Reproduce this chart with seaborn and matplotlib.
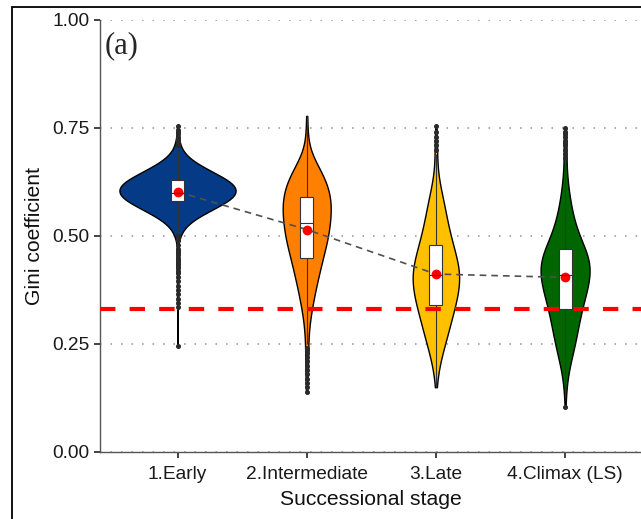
import numpy as np
import pandas as pd
import matplotlib
matplotlib.use("Agg")
import matplotlib.pyplot as plt
import seaborn as sns

# ---------------- data ----------------
stages = ["1.Early", "2.Intermediate", "3.Late", "4.Climax (LS)"]
colors = ["#053b86", "#ff7f00", "#ffc000", "#006600"]

# Early: binned Gini values with counts, plus tail values
early_values = [0.49, 0.50, 0.51, 0.52, 0.53, 0.54, 0.55, 0.56, 0.57, 0.58, 0.59, 0.60,
                0.61, 0.62, 0.63, 0.64, 0.65, 0.66, 0.67, 0.68, 0.69, 0.70, 0.71, 0.72]
early_counts = [3, 6, 9, 15, 24, 36, 51, 69, 84, 102, 114, 120,
                120, 114, 102, 84, 69, 51, 36, 24, 15, 9, 6, 3]
early_tails = [0.245, 0.335, 0.345, 0.355, 0.365, 0.375, 0.385, 0.395, 0.405, 0.415,
               0.42, 0.425, 0.43, 0.435, 0.44, 0.445, 0.45, 0.455, 0.46, 0.465, 0.47,
               0.48, 0.725, 0.73, 0.735, 0.74, 0.745, 0.755]

# Intermediate
inter_values = [0.25, 0.26, 0.27, 0.28, 0.29, 0.30, 0.31, 0.32, 0.33, 0.34,
                0.35, 0.36, 0.37, 0.38, 0.39, 0.40, 0.41, 0.42, 0.43, 0.44,
                0.45, 0.46, 0.47, 0.48, 0.49, 0.50, 0.51, 0.52, 0.53, 0.54,
                0.55, 0.56, 0.57, 0.58, 0.59,
                0.60, 0.61, 0.62, 0.63, 0.64, 0.65, 0.66, 0.67, 0.68, 0.69, 0.70]
inter_counts = [1, 1, 1, 2, 2, 2, 3, 3, 4, 5,
                5, 6, 7, 7, 8, 9, 10, 11, 11, 12,
                13, 14, 15, 16, 17, 18, 18, 18, 19, 19,
                20, 20, 20, 20, 20,
                19, 18, 17, 16, 14, 12, 10, 7, 5, 3, 1]
inter_tails = [0.14, 0.15, 0.16, 0.17, 0.18, 0.19, 0.20, 0.21, 0.22, 0.23, 0.235, 0.24,
               0.71, 0.72, 0.735, 0.75, 0.765, 0.778]

# Late
late_values = [0.15, 0.16, 0.17, 0.18, 0.19, 0.20, 0.21, 0.22, 0.23, 0.24,
               0.25, 0.26, 0.27, 0.28, 0.29, 0.30, 0.31, 0.32, 0.33, 0.34,
               0.35, 0.36, 0.37, 0.38, 0.39, 0.40, 0.41, 0.42, 0.43, 0.44,
               0.45, 0.46, 0.47, 0.48,
               0.49, 0.50, 0.51, 0.52, 0.53, 0.54, 0.55, 0.56, 0.57, 0.58,
               0.59, 0.60, 0.61, 0.62, 0.63, 0.64, 0.65, 0.66, 0.67, 0.68]
late_counts = [1, 1, 1, 1, 2, 3, 4, 4, 5, 7,
               7, 9, 9, 11, 11, 12, 13, 14, 15, 16,
               17, 18, 18, 19, 20, 20, 20, 20, 19, 18,
               17, 16, 15, 14,
               13, 12, 11, 10, 10, 9, 8, 8, 7, 6,
               6, 5, 4, 3, 2, 2, 1, 1, 1, 1]
late_tails = [0.69, 0.70, 0.71, 0.72, 0.73, 0.74, 0.755]

# Climax (LS)
climax_values = [0.13, 0.14, 0.15, 0.16, 0.17, 0.18, 0.19, 0.20, 0.21, 0.22,
                 0.23, 0.24, 0.25, 0.26, 0.27, 0.28, 0.29, 0.30, 0.31, 0.32,
                 0.33, 0.34, 0.35, 0.36, 0.37, 0.38, 0.39, 0.40, 0.41, 0.42,
                 0.43, 0.44, 0.45, 0.46, 0.47, 0.48, 0.49, 0.50, 0.51, 0.52,
                 0.53, 0.54, 0.55, 0.56, 0.57, 0.58, 0.59, 0.60, 0.61, 0.62,
                 0.63, 0.64, 0.65, 0.66]
climax_counts = [1, 1, 1, 1, 2, 2, 3, 4, 5, 5,
                 7, 8, 8, 9, 10, 10, 11, 12, 12, 13,
                 14, 14, 15, 18, 18, 19, 20, 20, 21, 22,
                 22, 22, 21, 19, 17, 15, 13, 12, 10, 9,
                 8, 7, 6, 6, 5, 4, 4, 3, 3, 2,
                 2, 2, 1, 1]
climax_tails = [0.105, 0.67, 0.68, 0.69, 0.70, 0.71, 0.715, 0.72, 0.73, 0.735, 0.74, 0.749]

reference_line = 0.33

# ---------------- build long table ----------------
groups = [
    (early_values, early_counts, early_tails),
    (inter_values, inter_counts, inter_tails),
    (late_values, late_counts, late_tails),
    (climax_values, climax_counts, climax_tails),
]
frames = []
for stage, (vals, cnts, tails) in zip(stages, groups):
    g = np.concatenate([np.repeat(vals, cnts), np.asarray(tails, dtype=float)])
    frames.append(pd.DataFrame({"stage": stage, "gini": g}))
df = pd.concat(frames, ignore_index=True)

# ---------------- plot ----------------
sns.set_style("ticks")
plt.rcParams["font.family"] = ["Liberation Sans", "DejaVu Sans"]

fig = plt.figure(figsize=(6.41, 5.19), dpi=100)
ax = fig.add_axes([100 / 641, 67 / 519, 542.6 / 641, 432 / 519])

sns.violinplot(data=df, x="stage", y="gini", order=stages, hue="stage",
               hue_order=stages, palette=colors, legend=False, saturation=1,
               density_norm="area", common_norm=True, cut=0, inner=None,
               width=0.9, linewidth=1.0, linecolor="black", ax=ax)

sns.boxplot(data=df, x="stage", y="gini", order=stages, color="white",
            saturation=1, width=0.1, linewidth=0.8, linecolor="#333333",
            fliersize=2.6, showcaps=False,
            flierprops=dict(marker="o", markerfacecolor="#2a2a2a",
                            markeredgecolor="#2a2a2a"),
            ax=ax)

sns.pointplot(data=df, x="stage", y="gini", order=stages, estimator="mean",
              errorbar=None, color="#505050", marker="", linestyle="--",
              linewidth=1.2, ax=ax)
for ln in ax.lines[-1:]:
    ln.set_dashes((4, 3))

sns.pointplot(data=df, x="stage", y="gini", order=stages, estimator="mean",
              errorbar=None, color="red", marker="o", linestyle="none",
              markersize=5, ax=ax)

ax.axhline(reference_line, color="red", lw=3, dashes=(3.7, 3.4), zorder=6)

ax.set_xlim(-0.6, 3.6)
ax.set_ylim(0, 1)
ax.set_yticks([0, 0.25, 0.5, 0.75, 1.0])
ax.set_yticklabels(["0.00", "0.25", "0.50", "0.75", "1.00"])
ax.yaxis.grid(True, color="#aaaaaa", lw=1.4, dashes=(0.8, 4.6))
ax.set_axisbelow(True)

for side in ["top", "right"]:
    ax.spines[side].set_visible(False)
for side in ["left", "bottom"]:
    ax.spines[side].set_color("#555555")
    ax.spines[side].set_linewidth(1.0)
ax.tick_params(axis="both", length=4, width=1.2, color="#222222",
               labelsize=13.8, labelcolor="#1a1a1a")
ax.tick_params(axis="x", pad=6)

ax.set_xlabel("Successional stage", fontsize=15.2, color="#111111", labelpad=5)
ax.set_ylabel("Gini coefficient", fontsize=15.2, color="#111111", labelpad=6)

ax.text(0.008, 0.94, "(a)", transform=ax.transAxes, va="center", ha="left",
        fontsize=22, family=["Liberation Serif", "DejaVu Serif"])

frame = plt.Rectangle((12 / 641, -0.1), 1.2, 1.1 - 7 / 519, transform=fig.transFigure,
                      fill=False, edgecolor="black", lw=1.3)
fig.add_artist(frame)

fig.savefig("out.png", dpi=100)
